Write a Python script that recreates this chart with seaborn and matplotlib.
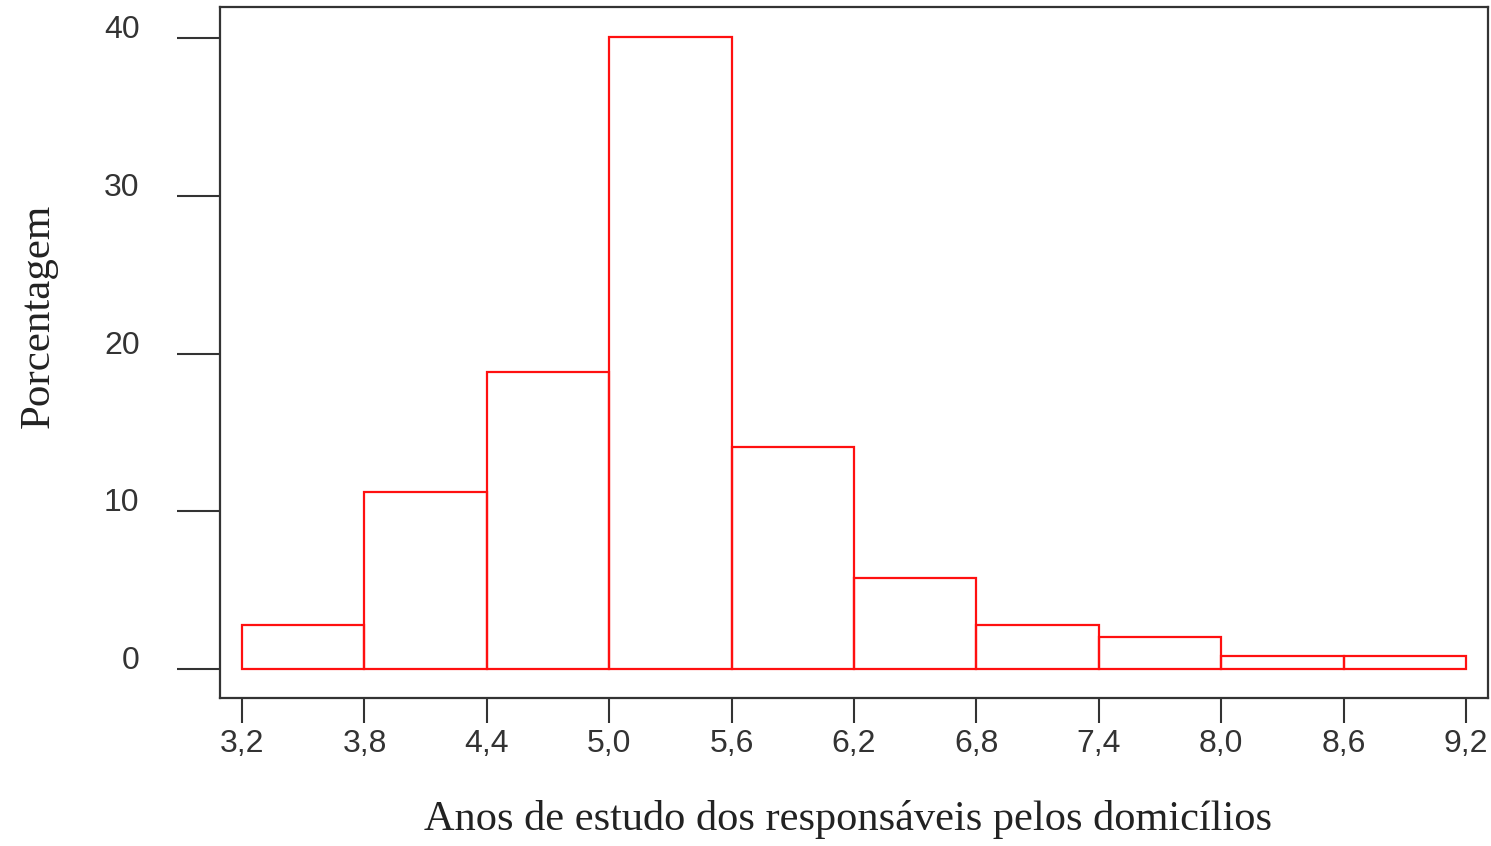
import numpy as np
import matplotlib
matplotlib.use("Agg")
import matplotlib.pyplot as plt
import seaborn as sns

# dados
bin_edges = [3.2, 3.8, 4.4, 5.0, 5.6, 6.2, 6.8, 7.4, 8.0, 8.6, 9.2]
porcentagem = [2.8, 11.2, 18.8, 40.1, 14.1, 5.8, 2.8, 2.0, 0.8, 0.8]
x_ticks = [3.2, 3.8, 4.4, 5.0, 5.6, 6.2, 6.8, 7.4, 8.0, 8.6, 9.2]
x_ticklabels = ["3,2", "3,8", "4,4", "5,0", "5,6", "6,2", "6,8", "7,4", "8,0", "8,6", "9,2"]
y_ticks = [0, 10, 20, 30, 40]

centros = [(a + b) / 2 for a, b in zip(bin_edges[:-1], bin_edges[1:])]

sns.set_style("white")
plt.rcParams['font.family'] = ['Liberation Sans Narrow', 'Liberation Sans', 'DejaVu Sans']

fig = plt.figure(figsize=(14.91, 8.46), dpi=100)
ax = fig.add_axes([0.1476, 0.1749, 0.8504, 0.8168])

sns.histplot(x=centros, weights=porcentagem, bins=bin_edges, fill=False,
             color='#ff1010', linewidth=1.6, ax=ax)

ax.set_xlim(3.092, 9.308)
ax.set_ylim(-1.84, 41.97)

ax.set_xticks(x_ticks)
ax.set_xticklabels(x_ticklabels)
ax.set_yticks(y_ticks)
ax.set_yticklabels([str(v) for v in y_ticks])

for s in ax.spines.values():
    s.set_color('#333333')
    s.set_linewidth(1.6)

ax.tick_params(axis='x', direction='out', length=18, width=1.5, color='#333333',
               pad=4, labelsize=23, labelcolor='#333333', bottom=True)
ax.tick_params(axis='y', direction='out', length=31, width=1.5, color='#333333',
               pad=27, labelsize=23, labelcolor='#333333', left=True)
# rótulos do eixo y ficam acima da marca
for lbl in ax.get_yticklabels():
    lbl.set_verticalalignment('baseline')

ax.set_xlabel('Anos de estudo dos responsáveis pelos domicílios',
              family=['Liberation Serif', 'DejaVu Serif'], fontsize=30.5,
              color='#222222')
ax.set_ylabel('Porcentagem', family=['Liberation Serif', 'DejaVu Serif'],
              fontsize=31, color='#222222')
ax.xaxis.set_label_coords(0.495, -0.148)
ax.yaxis.set_label_coords(-0.128, 0.553)

fig.savefig('out.png', dpi=100)
